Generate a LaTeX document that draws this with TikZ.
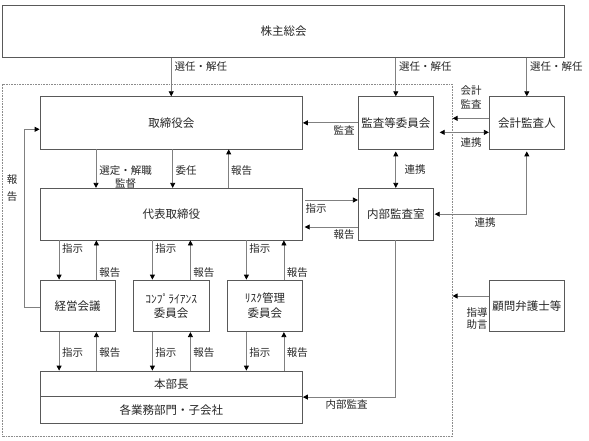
\documentclass[tikz,border=0pt]{standalone}
\usepackage{fontspec}
\setmainfont{Noto Sans CJK JP}
\usetikzlibrary{arrows.meta}
\begin{document}
\begin{tikzpicture}[x=1pt,y=-1pt,
  box/.style={draw=black!65,line width=0.8pt,inner sep=0pt,align=center,text=black!85,font=\fontsize{11.5}{14.5}\selectfont},
  lbl/.style={inner sep=0pt,align=center,text=black!85,font=\fontsize{10.5}{13.5}\selectfont},
  arr/.style={draw=black!50,line width=0.8pt,-{Triangle[length=5pt,width=5pt,color=black,fill=black]}},
  arrs/.style={draw=black!50,line width=0.8pt,{Triangle[length=5pt,width=5pt,color=black,fill=black]}-{Triangle[length=5pt,width=5pt,color=black,fill=black]}}]
\useasboundingbox (0,0) rectangle (589,441);
\node[draw=black!45,densely dotted,line width=0.6pt,minimum width=449.6pt,minimum height=352.5pt] (grp) at (227.5,260.25) {};

\node[box,minimum width=561.6pt,minimum height=52.3pt] (sh) at (283.5,31.15) {株主総会};
\node[box,minimum width=262.5pt,minimum height=52.3pt] (board) at (171.25,122.85) {取締役会};
\node[box,minimum width=75pt,minimum height=52.3pt] (acom) at (395.8,122.85) {監査等委員会};
\node[box,minimum width=75pt,minimum height=52.3pt] (acct) at (526.8,122.85) {会計監査人};
\node[box,minimum width=262.5pt,minimum height=51.7pt] (rep) at (171.25,214.15) {代表取締役};
\node[box,minimum width=75pt,minimum height=51.7pt] (iaud) at (395.8,214.15) {内部監査室};
\node[box,minimum width=75pt,minimum height=51.7pt] (mgmt) at (77.5,305.85) {経営会議};
\node[box,minimum width=75.7pt,minimum height=51.7pt] (comp) at (171.15,305.85) {ｺﾝﾌﾟﾗｲｱﾝｽ\\委員会};
\node[box,minimum width=75.2pt,minimum height=51.7pt] (risk) at (264.9,305.85) {ﾘｽｸ管理\\委員会};
\node[box,minimum width=75pt,minimum height=51.7pt] (adv) at (526.8,305.85) {顧問弁護士等};
\node[box,minimum width=262.5pt,minimum height=25.7pt] (hq) at (171.25,383.85) {本部長};
\node[box,minimum width=262.5pt,minimum height=26.6pt] (div) at (171.25,410) {各業務部門・子会社};

\draw[arr] (board.north |- sh.south) -- (board.north);
\draw[arr] (acom.north |- sh.south) -- (acom.north);
\draw[arr] (acct.north |- sh.south) -- (acct.north);
\node[lbl,anchor=west] (sel1) at (174.5,66.5) {選任・解任};
\node[lbl,anchor=west] (sel2) at (399,66.5) {選任・解任};
\node[lbl,anchor=west] (sel3) at (530,66.5) {選任・解任};

\draw[arr] (acom.west) -- (acom.west -| board.east);
\node[lbl] (audit) at (344,130.5) {監査};
\draw[arr] ([yshift=4.5pt]acct.west) -- ([yshift=4.5pt]acct.west -| grp.east);
\node[lbl] (acctaudit) at (471,97.3) {会計\\監査};
\draw[arrs] ([xshift=6pt,yshift=-9.5pt]acom.east) -- ([yshift=-9.5pt]acct.west);
\node[lbl] (coop1) at (471,143) {連携};
\draw[arrs] ([yshift=-2pt]acom.south) -- (iaud.north);
\node[lbl] (coop2) at (415,169.5) {連携};

\draw[arr] ([xshift=-75.25pt]board.south) -- ([xshift=-75.25pt]rep.north);
\node[lbl] (appoint) at (125.5,176.8) {選定・解職\\監督};
\draw[arr] ([xshift=1.45pt]board.south) -- ([xshift=1.45pt]rep.north);
\node[lbl] (delegate) at (186,170.3) {委任};
\draw[arr] ([xshift=57.45pt]rep.north) -- ([xshift=57.45pt]board.south);
\node[lbl] (report1) at (241.5,170.3) {報告};

\draw[arr] ([xshift=2.5pt,yshift=14.15pt]rep.east) -- ([yshift=14.15pt]iaud.west);
\node[lbl] (instr1) at (316,208.3) {指示};
\draw[arr] ([yshift=-12.85pt]iaud.west) -- ([xshift=1.8pt,yshift=-12.85pt]rep.east);
\node[lbl] (report2) at (344,234.3) {報告};
\draw[arrs] ([xshift=1pt]iaud.east) -| ([yshift=-2pt]acct.south);
\node[lbl] (coop3) at (485,222.7) {連携};

\draw[arr] ([yshift=-1.45pt]mgmt.west) -- ++(-15.7,0) |- ([yshift=-6.45pt]board.west);
\node[lbl,font=\fontsize{10.5}{16.7}\selectfont] (report3) at (12,188.3) {報\\告};

\foreach \b in {mgmt,comp,risk} {
  \draw[arr] ([xshift=19.5pt]\b.north west |- rep.south) -- node[lbl,anchor=west,pos=0.21,xshift=2.5pt] (\b-i1) {指示} ([xshift=19.5pt]\b.north west);
  \draw[arr] ([xshift=-19pt]\b.north east) -- node[lbl,anchor=west,pos=0.17,xshift=2.5pt] (\b-r1) {報告} ([xshift=-19pt]\b.north east |- rep.south);
  \draw[arr] ([xshift=19.5pt]\b.south west) -- node[lbl,anchor=west,pos=0.53,xshift=2.5pt] (\b-i2) {指示} ([xshift=19.5pt]\b.south west |- hq.north);
  \draw[arr] ([xshift=-19pt]\b.south east |- hq.north) -- node[lbl,anchor=west,pos=0.47,xshift=2.5pt] (\b-r2) {報告} ([xshift=-19pt]\b.south east);
}

\draw[arr] (iaud.south) |- (hq.south east);
\node[lbl] (intaudit) at (346.7,405) {内部監査};
\draw[arr] ([yshift=9.85pt]adv.west) -- ([yshift=9.85pt]adv.west -| grp.east);
\node[lbl,font=\fontsize{10.5}{12.5}\selectfont] (advice) at (477,318.5) {指導\\助言};
\end{tikzpicture}
\end{document}
